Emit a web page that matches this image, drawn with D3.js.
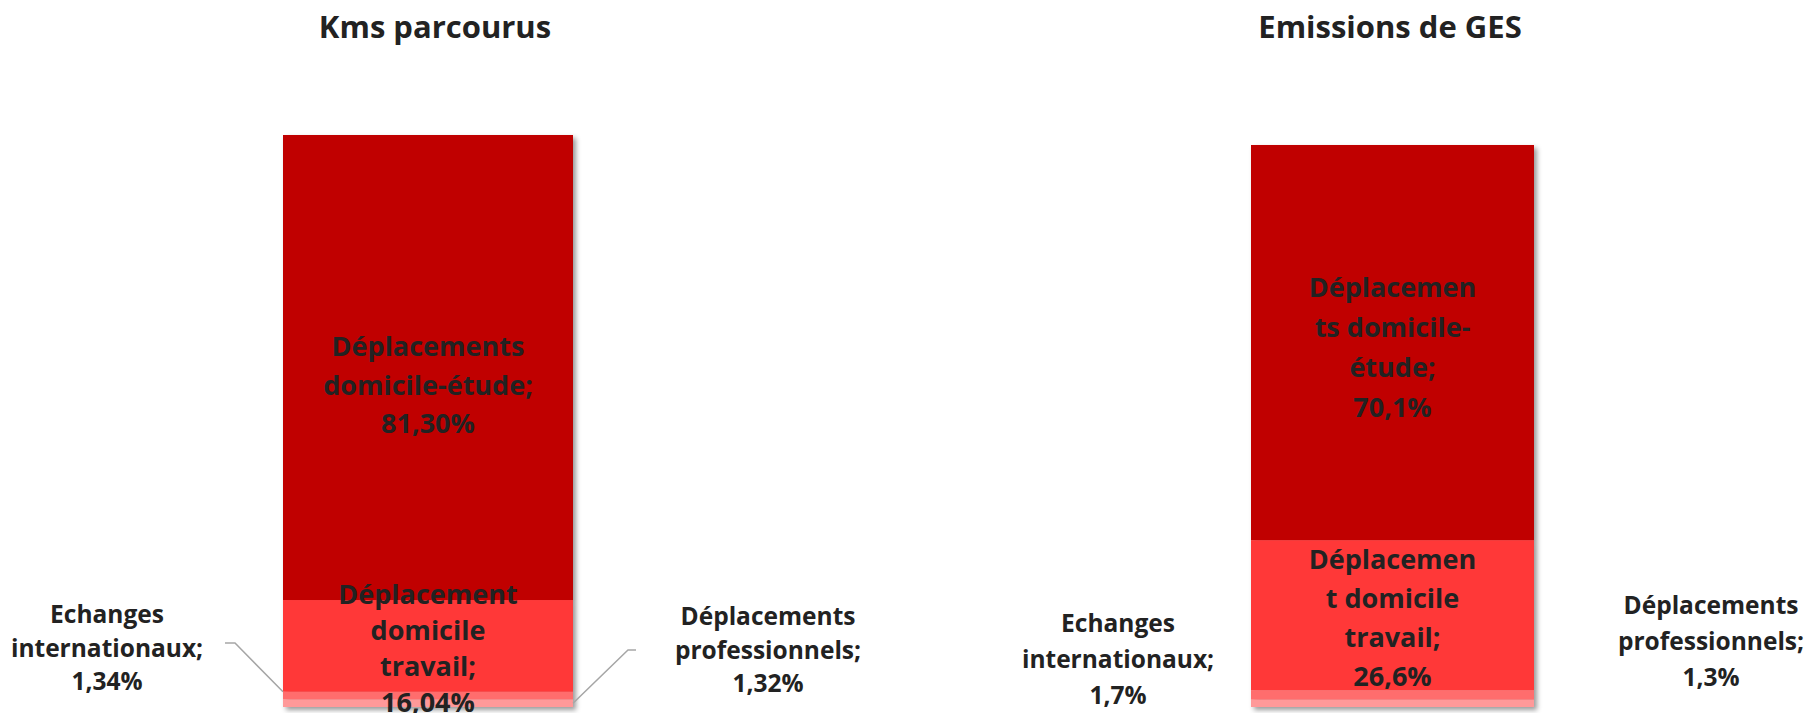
<!DOCTYPE html>
<html>
<head>
<meta charset="utf-8">
<script src="https://cdn.jsdelivr.net/npm/d3@7"></script>
<style>
  body { margin: 0; background: #fff; }
  text { font-family: 'Open Sans', sans-serif; font-weight: bold; fill: #222; }
</style>
</head>
<body>
<svg id="chart" width="1815" height="713"></svg>
<script>
// data
const panels = ['Kms parcourus', 'Emissions de GES']
const categories = ['Déplacements professionnels', 'Echanges internationaux', 'Déplacement domicile travail', 'Déplacements domicile-étude']
const kmsValues = [1.32, 1.34, 16.04, 81.30]
const gesValues = [1.3, 1.7, 26.6, 70.1]
const decimals = [2, 1]
const colors = ['#FF9999', '#FF6D6D', '#FF3737', '#C00000']
// label lines as Excel wrapped them
const kmsLabelLines = [['Déplacements', 'professionnels;'], ['Echanges', 'internationaux;'], ['Déplacement', 'domicile', 'travail;'], ['Déplacements', 'domicile-étude;']]
const gesLabelLines = [['Déplacements', 'professionnels;'], ['Echanges', 'internationaux;'], ['Déplacemen', 't domicile', 'travail;'], ['Déplacemen', 'ts domicile-', 'étude;']]

const fr = d3.formatLocale({decimal: ',', thousands: ' ', grouping: [3], currency: ['', ' €']})

let table = panels.map(function(p, i) {
  let row = {panel: p}
  let vals = i == 0 ? kmsValues : gesValues
  categories.forEach(function(c, j) { row[c] = vals[j] })
  return row
})
let labelLines = [kmsLabelLines, gesLabelLines]

let series = d3.stack().keys(categories)(table)
let color = d3.scaleOrdinal(categories, colors)

// layout of the two side by side charts
let layout = [
  {x0: 283, x1: 573, top: 135, bottom: 707, titleX: 435, innerLh: [0, 0, 36, 38.5], innerShift: [0, 0, 0, 15],
   outside: [{x: 768, y: 625, lh: 33.5}, {x: 107, y: 623, lh: 33.5}], leaders: true},
  {x0: 1251, x1: 1534, top: 143.3, bottom: 707, titleX: 1390, innerLh: [0, 0, 39, 40], innerShift: [0, 0, 0, 2],
   outside: [{x: 1711, y: 614, lh: 36}, {x: 1118, y: 632, lh: 36}], leaders: false}
]

let svg = d3.select('#chart')
let defs = svg.append('defs')
defs.append('filter').attr('id', 'shadow')
  .attr('x', '-10%').attr('y', '-10%').attr('width', '130%').attr('height', '130%')
  .append('feDropShadow')
    .attr('dx', 3).attr('dy', 3).attr('stdDeviation', 2.5)
    .attr('flood-color', '#000').attr('flood-opacity', 0.4)

panels.forEach(function(p, i) {
  let L = layout[i]
  let x = d3.scaleBand().domain([p]).range([L.x0, L.x1]).padding(0)
  let y = d3.scaleLinear().domain([0, 100]).range([L.bottom, L.top])
  let fmt = fr.format('.' + decimals[i] + 'f')
  let g = svg.append('g')

  g.append('text')
    .attr('x', L.titleX).attr('y', 38)
    .attr('text-anchor', 'middle')
    .style('font-size', '31px')
    .text(p)

  g.append('g').attr('filter', 'url(#shadow)')
    .selectAll('rect')
    .data(series)
    .enter()
    .append('rect')
      .attr('x', x(p))
      .attr('width', x.bandwidth())
      .attr('y', function(s) { return y(s[i][1]) })
      .attr('height', function(s) { return y(s[i][0]) - y(s[i][1]) })
      .attr('fill', function(s) { return color(s.key) })

  // leader lines for the two thin segments
  if (L.leaders) {
    let line = d3.line()
    let ech = series[1][i], pro = series[0][i]
    g.append('path')
      .attr('d', line([[225, 643], [235, 643], [x(p), y(ech[1])]]))
      .attr('fill', 'none').attr('stroke', '#a6a6a6').attr('stroke-width', 1.5)
    g.append('path')
      .attr('d', line([[636, 650], [628, 650], [x(p) + x.bandwidth(), y((pro[0] + pro[1]) / 2)]]))
      .attr('fill', 'none').attr('stroke', '#a6a6a6').attr('stroke-width', 1.5)
  }

  // labels
  series.forEach(function(s, j) {
    let lines = labelLines[i][j].concat([fmt(s[i].data[s.key]) + '%'])
    let t, x0, y0, lh, fs
    if (j < 2) {
      let o = L.outside[j]
      x0 = o.x; y0 = o.y; lh = o.lh; fs = 24.5
    } else {
      fs = 27; lh = L.innerLh[j]
      x0 = x(p) + x.bandwidth() / 2
      let mid = (y(s[i][0]) + y(s[i][1])) / 2 + 12 + L.innerShift[j]
      y0 = mid - lh * (lines.length - 1) / 2
    }
    t = g.append('text')
      .attr('text-anchor', 'middle')
      .style('font-size', fs + 'px')
    t.selectAll('tspan')
      .data(lines)
      .enter()
      .append('tspan')
        .attr('x', x0)
        .attr('y', function(d, k) { return y0 + k * lh })
        .text(function(d) { return d })
  })
})
</script>
</body>
</html>
